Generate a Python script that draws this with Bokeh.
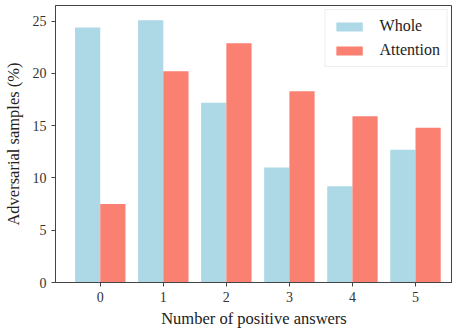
from bokeh.plotting import figure
from bokeh.models import ColumnDataSource, FixedTicker, Range1d, Legend, LegendItem
from bokeh.transform import dodge
from bokeh.embed import file_html
from bokeh.resources import INLINE

categories = [0, 1, 2, 3, 4, 5]
whole = [24.4, 25.1, 17.2, 11.0, 9.2, 12.7]
attention = [7.5, 20.2, 22.9, 18.3, 15.9, 14.8]
series_names = ["Whole", "Attention"]

src = ColumnDataSource(dict(x=categories, whole=whole, attention=attention))

FONT = "Liberation Serif"
p = figure(width=452, height=330, output_backend="svg", toolbar_location=None,
           x_range=Range1d(-0.71, 5.587), y_range=Range1d(0, 26.5),
           min_border_left=54, min_border_right=0, min_border_top=5, min_border_bottom=45)
p.background_fill_color = "white"
p.border_fill_color = "white"
p.outline_line_color = "#444444"
p.outline_line_width = 1
p.grid.visible = False

r1 = p.vbar(x=dodge("x", -0.2, range=p.x_range), top="whole", width=0.4, source=src,
            fill_color="#ADD8E6", line_color=None)
r2 = p.vbar(x=dodge("x", 0.2, range=p.x_range), top="attention", width=0.4, source=src,
            fill_color="#FA8072", line_color=None)

for ax in (p.xaxis[0], p.yaxis[0]):
    ax.axis_line_color = "#444444"
    ax.major_tick_line_color = "#444444"
    ax.major_tick_out = 4
    ax.major_tick_in = 0
    ax.minor_tick_line_color = None
    ax.major_label_text_font = FONT
    ax.major_label_text_font_size = "14px"
    ax.major_label_text_color = "#333333"
    ax.axis_label_text_font = FONT
    ax.axis_label_text_font_size = "16.5px"
    ax.axis_label_text_font_style = "normal"
    ax.axis_label_text_color = "#222222"

p.xaxis.ticker = FixedTicker(ticks=categories)
p.yaxis.ticker = FixedTicker(ticks=[0, 5, 10, 15, 20, 25])
p.xaxis.axis_label = "Number of positive answers"
p.yaxis.axis_label = "Adversarial samples (%)"
p.xaxis.major_label_standoff = 5
p.yaxis.major_label_standoff = 5
p.xaxis.axis_label_standoff = 4
p.yaxis.axis_label_standoff = 7

legend = Legend(items=[LegendItem(label=series_names[0], renderers=[r1]),
                       LegendItem(label=series_names[1], renderers=[r2])],
                location="top_right")
legend.label_text_font = FONT
legend.label_text_font_size = "16px"
legend.label_text_color = "#222222"
legend.glyph_width = 33
legend.glyph_height = 11
legend.label_standoff = 14
legend.spacing = 6
legend.padding = 7
legend.margin = 4
legend.border_line_color = "#dddddd"
legend.background_fill_alpha = 0.9
p.add_layout(legend)

open("out.html", "w").write(file_html(p, INLINE))
